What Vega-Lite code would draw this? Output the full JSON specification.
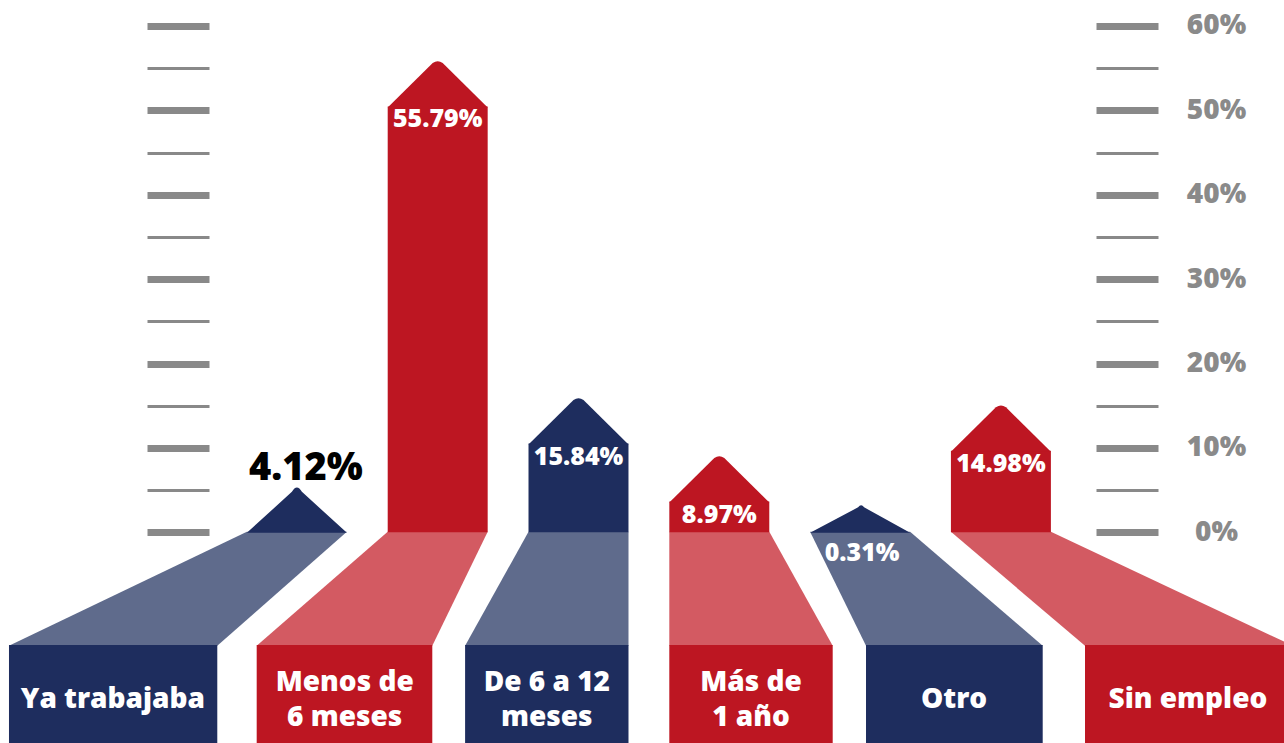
{
  "$schema": "https://vega.github.io/schema/vega-lite/v6.json",
  "width": 1284,
  "height": 743,
  "autosize": {"type": "none"},
  "padding": 0,
  "background": "white",
  "config": {"view": {"stroke": null}},
  "data": {
    "values": [
      {"cat": "Ya trabajaba", "etiqueta": "Ya trabajaba", "valor": 0.0412},
      {"cat": "Menos de 6 meses", "etiqueta": "Menos de\n6 meses", "valor": 0.5579},
      {"cat": "De 6 a 12 meses", "etiqueta": "De 6 a 12\nmeses", "valor": 0.1584},
      {"cat": "Más de 1 año", "etiqueta": "Más de\n1 año", "valor": 0.0897},
      {"cat": "Otro", "etiqueta": "Otro", "valor": 0.0031},
      {"cat": "Sin empleo", "etiqueta": "Sin empleo", "valor": 0.1498}
    ]
  },
  "encoding": {
    "x": {
      "field": "cat",
      "type": "nominal",
      "sort": null,
      "axis": null,
      "scale": {
        "type": "band",
        "domain": ["Ya trabajaba", "Menos de 6 meses", "De 6 a 12 meses", "Más de 1 año", "Otro", "Sin empleo"],
        "range": [246.9, 1050.9],
        "paddingInner": 0.29,
        "paddingOuter": 0
      }
    }
  },
  "layer": [
    {
      "mark": {"type": "point", "filled": true, "opacity": 1, "strokeWidth": 0, "size": 4},
      "encoding": {
        "y": {"datum": 0, "type": "quantitative", "axis": null, "scale": {"domain": [-0.24964, 0.63069], "nice": false, "zero": false}},
        "shape": {
          "field": "cat", "type": "nominal", "legend": null,
          "scale": {
            "domain": ["Ya trabajaba", "Menos de 6 meses", "De 6 a 12 meses", "Más de 1 año", "Otro", "Sin empleo"],
            "range": [
              "M-50,-0.5L50,-0.5L-79.6,113.5L-287.9,113.5Z",
              "M-50,-0.5L50,-0.5L-5.4,113.5L-181,113.5Z",
              "M-50,-0.5L50,-0.5L50,113.5L-113.4,113.5Z",
              "M-50,-0.5L50,-0.5L113.4,113.5L-50,113.5Z",
              "M-50,-0.5L50,-0.5L182.6,113.5L5.9,113.5Z",
              "M-50,-0.5L50,-0.5L292,113.5L84.1,113.5Z"
            ]
          }
        },
        "color": {
          "field": "cat", "type": "nominal", "legend": null,
          "scale": {
            "domain": ["Ya trabajaba", "Menos de 6 meses", "De 6 a 12 meses", "Más de 1 año", "Otro", "Sin empleo"],
            "range": ["#5f6b8c", "#d35a62", "#5f6b8c", "#d35a62", "#5f6b8c", "#d35a62"]
          }
        }
      }
    },
    {
      "mark": {"type": "point", "filled": true, "opacity": 1, "strokeWidth": 0, "size": 4},
      "encoding": {
        "y": {"datum": 0, "type": "quantitative", "axis": null},
        "shape": {
          "field": "cat", "type": "nominal", "legend": null,
          "scale": {
            "domain": ["Ya trabajaba", "Menos de 6 meses", "De 6 a 12 meses", "Más de 1 año", "Otro", "Sin empleo"],
            "range": [
              "M-287.9,112.7L-79.6,112.7L-79.6,215L-287.9,215Z",
              "M-181,112.7L-5.4,112.7L-5.4,215L-181,215Z",
              "M-113.4,112.7L50,112.7L50,215L-113.4,215Z",
              "M-50,112.7L113.4,112.7L113.4,215L-50,215Z",
              "M5.9,112.7L182.6,112.7L182.6,215L5.9,215Z",
              "M84.1,112.7L300,112.7L300,215L84.1,215Z"
            ]
          }
        },
        "color": {
          "field": "cat", "type": "nominal", "legend": null,
          "scale": {
            "domain": ["Ya trabajaba", "Menos de 6 meses", "De 6 a 12 meses", "Más de 1 año", "Otro", "Sin empleo"],
            "range": ["#1e2d5e", "#bd1622", "#1e2d5e", "#bd1622", "#1e2d5e", "#bd1622"]
          }
        }
      }
    },
    {
      "transform": [{"filter": "datum.valor > 0.06"}],
      "mark": {"type": "bar", "yOffset": 45},
      "encoding": {
        "y": {
          "field": "valor", "type": "quantitative",
          "axis": {
            "orient": "left", "offset": -209, "title": null, "domain": false, "grid": false, "labels": false,
            "values": [0, 0.05, 0.1, 0.15, 0.2, 0.25, 0.3, 0.35, 0.4, 0.45, 0.5, 0.55, 0.6],
            "tickSize": 62, "tickColor": "#898989",
            "tickWidth": {"condition": {"test": "round(datum.value*100) % 10 === 0", "value": 7}, "value": 3}
          }
        },
        "y2": {"datum": 0},
        "color": {
          "field": "cat", "type": "nominal", "legend": null,
          "scale": {
            "domain": ["Ya trabajaba", "Menos de 6 meses", "De 6 a 12 meses", "Más de 1 año", "Otro", "Sin empleo"],
            "range": ["#1e2d5e", "#bd1622", "#1e2d5e", "#bd1622", "#1e2d5e", "#bd1622"]
          }
        }
      }
    },
    {
      "transform": [{"filter": "datum.valor > 0.06"}],
      "mark": {"type": "point", "filled": true, "opacity": 1, "strokeWidth": 0, "size": 4, "shape": "M-50,46L-5,1.5Q0,-2 5,1.5L50,46Z"},
      "encoding": {
        "y": {
          "field": "valor", "type": "quantitative",
          "axis": {
            "orient": "right", "offset": -188, "title": null, "domain": false, "grid": false,
            "values": [0, 0.05, 0.1, 0.15, 0.2, 0.25, 0.3, 0.35, 0.4, 0.45, 0.5, 0.55, 0.6],
            "format": ".0%",
            "labelExpr": "round(datum.value*100) % 10 === 0 ? datum.label : ''",
            "labelFont": "Open Sans", "labelFontSize": 28, "labelFontWeight": 800, "labelColor": "#8a8a8a",
            "labelAlign": "center", "labelBaseline": "middle", "labelPadding": 58, "labelFlush": false, "labelOverlap": false,
            "tickSize": 62, "tickColor": "#898989",
            "tickWidth": {"condition": {"test": "round(datum.value*100) % 10 === 0", "value": 7}, "value": 3}
          }
        },
        "color": {
          "field": "cat", "type": "nominal", "legend": null,
          "scale": {
            "domain": ["Ya trabajaba", "Menos de 6 meses", "De 6 a 12 meses", "Más de 1 año", "Otro", "Sin empleo"],
            "range": ["#1e2d5e", "#bd1622", "#1e2d5e", "#bd1622", "#1e2d5e", "#bd1622"]
          }
        }
      }
    },
    {
      "transform": [{"filter": "datum.valor <= 0.06"}],
      "mark": {"type": "point", "filled": true, "opacity": 1, "strokeWidth": 0, "size": 4, "color": "#1e2d5e"},
      "encoding": {
        "y": {"datum": 0, "type": "quantitative", "axis": null},
        "shape": {
          "field": "cat", "type": "nominal", "legend": null,
          "scale": {
            "domain": ["Ya trabajaba", "Otro"],
            "range": [
              "M-50,0.5L-5,-40.5Q0,-49 5,-40.5L50,0.5Z",
              "M-50,0.5L-2,-25Q1,-29 4,-25L50,0.5Z"
            ]
          }
        }
      }
    },
    {
      "mark": {
        "type": "text", "font": "Open Sans", "fontWeight": 800, "fontSize": 28, "color": "white",
        "align": "center", "baseline": "middle", "lineBreak": "\n", "lineHeight": 35.5,
        "dy": {"expr": "indexof(datum.etiqueta, '\\n') >= 0 ? 150.5 : 168"},
        "dx": {"expr": "datum.cat === 'Ya trabajaba' ? -184 : datum.cat === 'Menos de 6 meses' ? -93 : datum.cat === 'De 6 a 12 meses' ? -31.7 : datum.cat === 'Más de 1 año' ? 31.7 : datum.cat === 'Otro' ? 94 : 187"}
      },
      "encoding": {
        "y": {"datum": 0, "type": "quantitative", "axis": null},
        "text": {"field": "etiqueta"}
      }
    },
    {
      "transform": [{"filter": "datum.valor > 0.06"}],
      "mark": {"type": "text", "font": "Open Sans", "fontWeight": 800, "fontSize": 25, "color": "white", "align": "center", "baseline": "middle", "dy": 58},
      "encoding": {
        "y": {"field": "valor", "type": "quantitative", "axis": null},
        "text": {"field": "valor", "type": "quantitative", "format": ".2%"}
      }
    },
    {
      "transform": [{"filter": "datum.cat === 'Ya trabajaba'"}],
      "mark": {"type": "text", "font": "Open Sans", "fontWeight": 800, "fontSize": 38, "color": "black", "align": "center", "baseline": "middle", "dy": -29, "dx": 9},
      "encoding": {
        "y": {"field": "valor", "type": "quantitative", "axis": null},
        "text": {"field": "valor", "type": "quantitative", "format": ".2%"}
      }
    },
    {
      "transform": [{"filter": "datum.cat === 'Otro'"}],
      "mark": {"type": "text", "font": "Open Sans", "fontWeight": 800, "fontSize": 25, "color": "white", "align": "center", "baseline": "middle", "dy": 23, "dx": 2},
      "encoding": {
        "y": {"field": "valor", "type": "quantitative", "axis": null},
        "text": {"field": "valor", "type": "quantitative", "format": ".2%"}
      }
    }
  ],
  "resolve": {
    "scale": {"color": "independent", "shape": "independent"},
    "axis": {"y": "independent"}
  }
}
